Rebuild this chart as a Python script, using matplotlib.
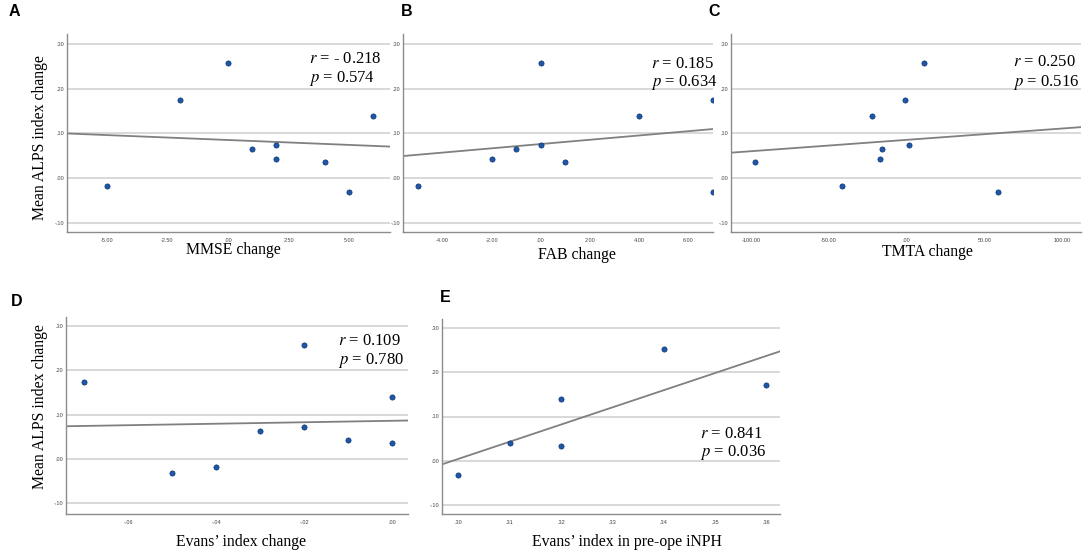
import numpy as np
import matplotlib
matplotlib.use('Agg')
import matplotlib.pyplot as plt

plt.rcParams['font.family'] = ['Liberation Serif', 'DejaVu Serif']
plt.rcParams['mathtext.fontset'] = 'stix'

# ALPS index change (same patients in A-D)
alps = [0.256, 0.174, 0.139, 0.073, 0.064, 0.042, 0.035, -0.017, -0.031]
mmse = [0, -2, 6, 2, 1, 2, 4, -5, 5]
fab = [0, 7, 4, 0, -1, -2, 1, -5, 7]
tmta = [11.3, -0.9, -22.1, 1.3, -16.1, -17.4, -97.7, -41.6, 58.9]
evans_chg = [-0.02, -0.07, 0.00, -0.02, -0.03, -0.01, 0.00, -0.04, -0.05]
# panel E (6 patients)
evans_pre = [0.34, 0.36, 0.32, 0.31, 0.32, 0.30]
alps_e = [0.253, 0.172, 0.139, 0.041, 0.034, -0.032]

stats = [('- 0.218', '0.574'), ('0.185', '0.634'), ('0.250', '0.516'),
         ('0.109', '0.780'), ('0.841', '0.036')]

W, H = 1084, 554
fig = plt.figure(figsize=(W / 100, H / 100), dpi=100)


def add_ax(l, r, t, b):
    return fig.add_axes([l / W, 1 - b / H, (r - l) / W, (b - t) / H])


def spss_fmt(v, pos=None):
    s = '%.2f' % v
    if s.startswith('0.'):
        s = s[1:]
    elif s.startswith('-0.'):
        s = '-' + s[2:]
    return s


def style(ax, xticks, xlim, ylim):
    ax.set_xlim(xlim)
    ax.set_ylim(ylim)
    ax.set_xticks(xticks)
    ax.set_yticks([-0.1, 0.0, 0.1, 0.2, 0.3])
    ax.xaxis.set_major_formatter(plt.FuncFormatter(spss_fmt))
    ax.yaxis.set_major_formatter(plt.FuncFormatter(spss_fmt))
    ax.tick_params(axis='x', length=0, labelsize=4, colors='#444444', pad=4)
    ax.tick_params(axis='y', length=0, labelsize=4, colors='#444444', pad=2)
    for t in ax.get_xticklabels() + ax.get_yticklabels():
        t.set_family(['Liberation Sans', 'DejaVu Sans'])
    ax.grid(axis='y', color='#d6d6d6', lw=1.3)
    ax.set_axisbelow(True)
    ax.spines['top'].set_visible(False)
    ax.spines['right'].set_visible(False)
    for s in ('left', 'bottom'):
        ax.spines[s].set_color('#8c8c8c')
        ax.spines[s].set_linewidth(1.0)


def scatter_fit(ax, x, y):
    x = np.array(x, dtype=float)
    y = np.array(y, dtype=float)
    k, c = np.polyfit(x, y, 1)
    xl = np.array(ax.get_xlim())
    ax.plot(xl, k * xl + c, color='#808080', lw=1.3, zorder=2)
    ax.scatter(x, y, s=14, color='#1f57a8', edgecolors='#0c3372',
               linewidths=0.5, zorder=3)


def stat_text(i, x, y1, y2):
    r, p = stats[i]
    fig.text(x / W, 1 - y1 / H, '$r$ = ' + r, fontsize=12, va='center')
    fig.text(x / W, 1 - y2 / H, '$p$ = ' + p, fontsize=12, va='center')


# A
axA = add_ax(67, 390, 34, 232)
style(axA, [-5, -2.5, 0, 2.5, 5], (-6.65, 6.69), (-0.121, 0.322))
scatter_fit(axA, mmse, alps)
stat_text(0, 309, 59, 79)

# B
axB = add_ax(403, 713, 34, 232)
style(axB, [-4, -2, 0, 2, 4, 6], (-5.6, 7.0), (-0.121, 0.322))
scatter_fit(axB, fab, alps)
stat_text(1, 651, 64, 83)

# C
axC = add_ax(731, 1081, 34, 232)
style(axC, [-100, -50, 0, 50, 100], (-113, 112), (-0.121, 0.322))
scatter_fit(axC, tmta, alps)
stat_text(2, 1013, 62, 82)

# D
axD = add_ax(66, 408, 317, 514)
style(axD, [-0.06, -0.04, -0.02, 0.0], (-0.0742, 0.0036), (-0.124, 0.320))
scatter_fit(axD, evans_chg, alps)
stat_text(3, 338, 341, 361)

# E
axE = add_ax(442, 780, 319, 514)
style(axE, [0.30, 0.31, 0.32, 0.33, 0.34, 0.35, 0.36], (0.2968, 0.3627), (-0.121, 0.321))
scatter_fit(axE, evans_pre, alps_e)
stat_text(4, 700, 434, 453)

# axis labels
lab = dict(fontsize=11.3, ha='center', va='center')
fig.text(233 / W, 1 - 250 / H, 'MMSE change', **lab)
fig.text(577 / W, 1 - 255 / H, 'FAB change', **lab)
fig.text(927 / W, 1 - 252 / H, 'TMTA change', **lab)
fig.text(241 / W, 1 - 542 / H, 'Evans’ index change', **lab)
fig.text(627 / W, 1 - 542 / H, 'Evans’ index in pre-ope iNPH', **lab)
fig.text(40 / W, 1 - 138 / H, 'Mean ALPS index change', rotation=90, **lab)
fig.text(40 / W, 1 - 407 / H, 'Mean ALPS index change', rotation=90, **lab)

# panel letters
let = dict(fontsize=11.5, fontweight='bold', family=['Liberation Sans', 'DejaVu Sans'],
           ha='left', va='center')
for s, x, y in [('A', 9, 12), ('B', 401, 12), ('C', 708, 12), ('D', 11, 302), ('E', 440, 297)]:
    fig.text(x / W, 1 - y / H, s, **let)

fig.savefig('out.png', dpi=100)
